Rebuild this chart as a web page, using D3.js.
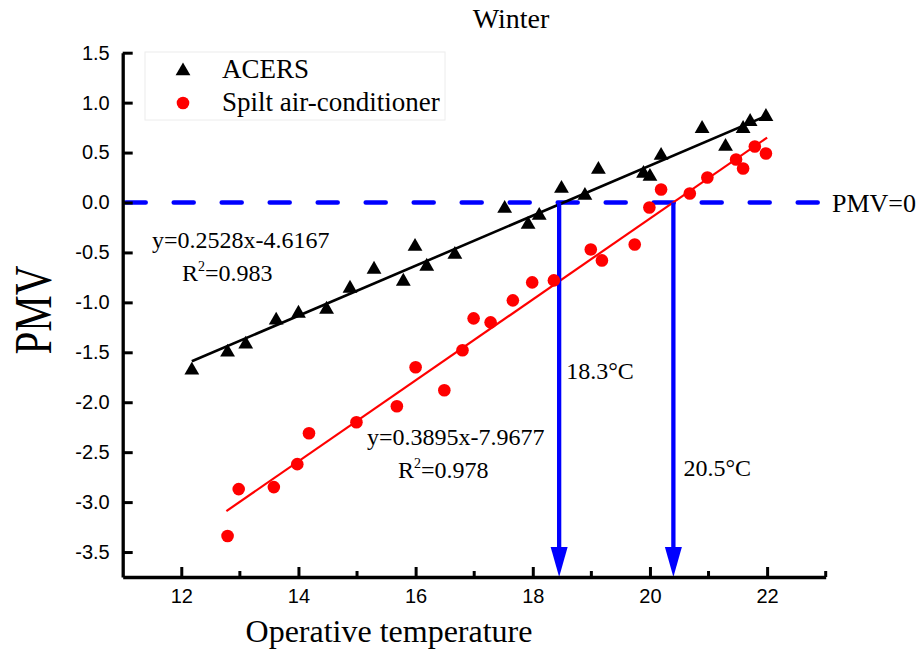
<!DOCTYPE html>
<html>
<head>
<meta charset="utf-8">
<script src="https://cdn.jsdelivr.net/npm/d3@7"></script>
<style>
  body { margin: 0; background: #fff; }
  svg { display: block; }
  .serif { font-family: "Liberation Serif", "Times New Roman", serif; fill: #000; }
  .tick text { font-family: "Liberation Sans", Arial, sans-serif; font-size: 20px; fill: #000; }
</style>
</head>
<body>
<svg id="chart" width="922" height="650"></svg>
<script>
// ---- data ----
const acersX = [12.18, 12.79, 13.10, 13.62, 14.0, 14.48, 14.88, 15.29, 15.79, 15.99, 16.19, 16.67,
                17.52, 17.92, 18.11, 18.49, 18.89, 19.12, 19.89, 20.0, 20.19, 20.89, 21.29, 21.59, 21.71, 21.98];
const acersY = [-1.67, -1.49, -1.41, -1.17, -1.10, -1.06, -0.85, -0.66, -0.78, -0.43, -0.63, -0.51,
                -0.05, -0.21, -0.12, 0.15, 0.08, 0.34, 0.30, 0.27, 0.48, 0.75, 0.57, 0.75, 0.82, 0.87];
const splitX = [12.79, 12.98, 13.58, 13.98, 14.18, 14.99, 15.68, 16.0, 16.49, 16.80, 16.99, 17.28, 17.66,
                17.99, 18.36, 18.99, 19.18, 19.74, 19.99, 20.19, 20.68, 20.98, 21.47, 21.59, 21.79, 21.98];
const splitY = [-3.34, -2.87, -2.85, -2.62, -2.31, -2.20, -2.04, -1.65, -1.88, -1.48, -1.16, -1.20, -0.98,
                -0.80, -0.78, -0.47, -0.58, -0.42, -0.05, 0.13, 0.09, 0.25, 0.43, 0.34, 0.56, 0.49];
const acersFitX = [12.18, 22.0], acersFitY = [-1.59, 0.87];
const splitFitX = [12.77, 22.0], splitFitY = [-3.09, 0.65];
const comfortX = [18.45, 20.4];
const comfortLabels = ["18.3°C", "20.5°C"];
const seriesNames = ["ACERS", "Spilt air-conditioner"];
const xTicks = [12, 14, 16, 18, 20, 22];
const xMinorTicks = [13, 15, 17, 19, 21, 23];
const yTicks = [1.5, 1.0, 0.5, 0.0, -0.5, -1.0, -1.5, -2.0, -2.5, -3.0, -3.5];

// ---- scales ----
const svg = d3.select("#chart");
const x = d3.scaleLinear().domain([11, 23]).range([122.7, 825.7]);
const y = d3.scaleLinear().domain([-3.75, 1.5]).range([577, 52.7]);

// title
svg.append("text").attr("class", "serif").attr("x", 511).attr("y", 28)
  .attr("text-anchor", "middle").attr("font-size", 28).text("Winter");

// legend box
const lg = svg.append("g");
lg.append("rect").attr("x", 145).attr("y", 52).attr("width", 300).attr("height", 68)
  .attr("fill", "#fff").attr("stroke", "#ececec").attr("stroke-width", 1);
lg.append("path").attr("transform", "translate(183,71)")
  .attr("d", d3.symbol(d3.symbolTriangle, 95)()).attr("fill", "#000");
lg.append("circle").attr("cx", 183).attr("cy", 103).attr("r", 6.3).attr("fill", "#ff0000");
lg.append("text").attr("class", "serif").attr("x", 222).attr("y", 78).attr("font-size", 27).text(seriesNames[0]);
lg.append("text").attr("class", "serif").attr("x", 222).attr("y", 111).attr("font-size", 27).text(seriesNames[1]);

// PMV=0 dashed line
svg.append("line").attr("x1", x(11) + 3).attr("x2", x(23) - 3).attr("y1", y(0)).attr("y2", y(0))
  .attr("stroke", "#0000ff").attr("stroke-width", 4.5).attr("stroke-dasharray", "20,28")
  .attr("stroke-linecap", "round");
svg.append("text").attr("class", "serif").attr("x", 832).attr("y", y(0) + 9).attr("font-size", 26).text("PMV=0");

// fitted lines
const line = d3.line().x(d => x(d[0])).y(d => y(d[1]));
svg.append("path").attr("d", line(d3.zip(acersFitX, acersFitY)))
  .attr("stroke", "#000").attr("stroke-width", 2.6).attr("fill", "none");
svg.append("path").attr("d", line(d3.zip(splitFitX, splitFitY)))
  .attr("stroke", "#ff0000").attr("stroke-width", 2.2).attr("fill", "none");

// arrows
comfortX.forEach((cx, i) => {
  svg.append("line").attr("x1", x(cx)).attr("x2", x(cx)).attr("y1", y(0)).attr("y2", y(-3.75) - 26)
    .attr("stroke", "#0000ff").attr("stroke-width", 4.3);
  const tx = x(cx), ty = y(-3.75);
  svg.append("path").attr("d", `M${tx - 8.5},${ty - 30}L${tx + 8.5},${ty - 30}L${tx},${ty}Z`)
    .attr("fill", "#0000ff");
});
svg.append("text").attr("class", "serif").attr("x", x(comfortX[0]) + 7).attr("y", y(-1.77))
  .attr("font-size", 24).text(comfortLabels[0]);
svg.append("text").attr("class", "serif").attr("x", x(comfortX[1]) + 10).attr("y", y(-2.74))
  .attr("font-size", 24).text(comfortLabels[1]);

// points
svg.append("g").selectAll("path").data(d3.zip(acersX, acersY)).join("path")
  .attr("transform", d => `translate(${x(d[0])},${y(d[1]) + 1})`)
  .attr("d", d3.symbol(d3.symbolTriangle, 95)()).attr("fill", "#000");
svg.append("g").selectAll("circle").data(d3.zip(splitX, splitY)).join("circle")
  .attr("cx", d => x(d[0])).attr("cy", d => y(d[1])).attr("r", 6.3).attr("fill", "#ff0000");

// equations
function eq(xp, yp, text) {
  svg.append("text").attr("class", "serif").attr("x", xp).attr("y", yp).attr("font-size", 24).text(text);
}
function r2(xp, yp, val) {
  const t = svg.append("text").attr("class", "serif").attr("x", xp).attr("y", yp).attr("font-size", 24);
  t.append("tspan").text("R");
  t.append("tspan").attr("font-size", 14).attr("dy", -10).text("2");
  t.append("tspan").attr("dy", 10).text("=" + val);
}
eq(152, 248, "y=0.2528x-4.6167");
r2(182, 281, "0.983");
eq(367, 445, "y=0.3895x-7.9677");
r2(398, 478, "0.978");

// axes
const xAxis = svg.append("g").attr("transform", `translate(0,${y(-3.75)})`)
  .call(d3.axisBottom(x).tickValues(xTicks).tickFormat(d3.format("d")).tickSizeInner(-10).tickSizeOuter(0).tickPadding(12));
xAxis.selectAll(".tick line").attr("stroke-width", 3);
xAxis.selectAll(".tick text").attr("dy", "0.71em");
xAxis.select(".domain").attr("stroke-width", 3.3);
svg.append("g").selectAll("line").data(xMinorTicks).join("line")
  .attr("x1", d => x(d)).attr("x2", d => x(d)).attr("y1", y(-3.75)).attr("y2", y(-3.75) - 6)
  .attr("stroke", "#000").attr("stroke-width", 3);

const yAxis = svg.append("g").attr("transform", `translate(${x(11)},0)`)
  .call(d3.axisLeft(y).tickValues(yTicks).tickFormat(d3.format(".1f")).tickSizeInner(-10).tickSizeOuter(0).tickPadding(13));
yAxis.selectAll(".tick line").attr("stroke-width", 3);
yAxis.select(".domain").attr("stroke-width", 3.3);
yAxis.selectAll(".tick text").text(d => d3.format(".1f")(d).replace("−", "-"));

// axis titles
svg.append("text").attr("class", "serif").attr("x", 389).attr("y", 642)
  .attr("text-anchor", "middle").attr("font-size", 32).text("Operative temperature");
svg.append("text").attr("class", "serif")
  .attr("transform", "translate(51,310) rotate(-90) scale(1,1.3)")
  .attr("text-anchor", "middle").attr("font-size", 41).text("PMV");
</script>
</body>
</html>
